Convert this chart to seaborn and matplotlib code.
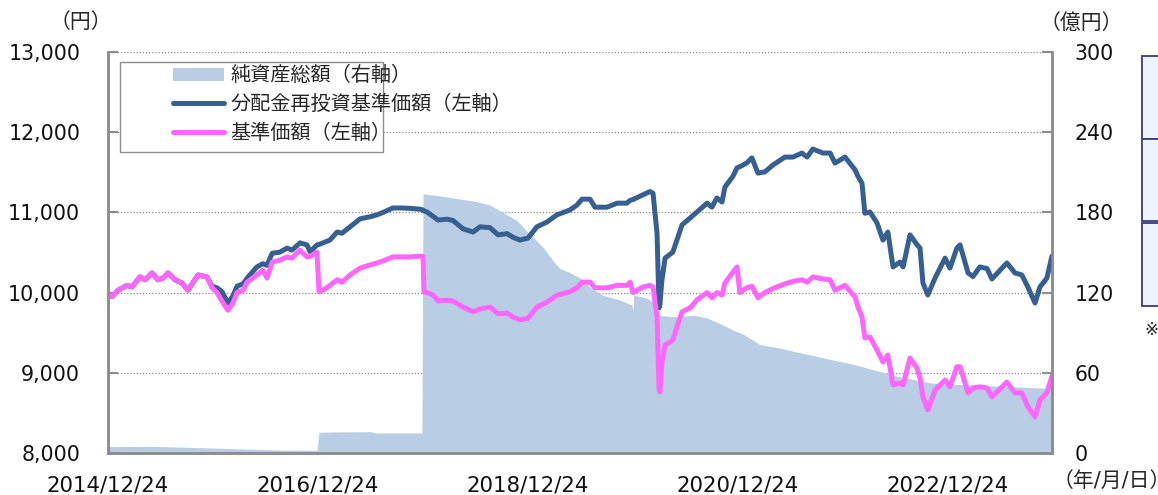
import numpy as np
import pandas as pd
import matplotlib
matplotlib.use("Agg")
import matplotlib.pyplot as plt
import matplotlib.dates as mdates
from matplotlib.patches import Rectangle, Patch
from matplotlib.lines import Line2D
import seaborn as sns

# ---------------- data ----------------
line_dates = [
    "2014-12-24", "2015-01-07", "2015-01-28", "2015-02-28", "2015-03-17", "2015-04-14",
    "2015-05-02", "2015-05-26", "2015-06-16", "2015-07-03", "2015-07-21", "2015-08-14",
    "2015-09-07", "2015-09-28", "2015-11-02", "2015-12-03", "2015-12-21", "2016-01-07",
    "2016-01-25", "2016-02-14", "2016-03-03", "2016-03-17", "2016-04-07", "2016-04-21",
    "2016-05-25", "2016-06-15", "2016-06-29", "2016-07-17", "2016-08-13", "2016-09-07",
    "2016-09-24", "2016-10-22", "2016-11-15", "2016-11-26", "2016-12-20", "2016-12-27",
    "2017-01-10", "2017-02-03", "2017-02-28", "2017-03-17", "2017-04-14", "2017-05-19",
    "2017-06-22", "2017-07-17", "2017-08-07", "2017-09-10", "2017-10-15", "2017-11-09",
    "2017-12-13", "2017-12-24", "2017-12-27", "2018-01-07", "2018-01-28", "2018-02-14",
    "2018-03-17", "2018-04-07", "2018-05-12", "2018-06-16", "2018-07-10", "2018-08-14",
    "2018-09-11", "2018-10-12", "2018-11-02", "2018-11-26", "2018-12-24", "2019-01-24",
    "2019-02-28", "2019-04-04", "2019-05-19", "2019-06-12", "2019-06-30", "2019-07-28",
    "2019-08-14", "2019-09-25", "2019-10-30", "2019-12-03", "2019-12-14", "2019-12-24",
    "2020-01-28", "2020-02-21", "2020-03-03", "2020-03-17", "2020-03-24", "2020-03-27",
    "2020-04-03", "2020-04-14", "2020-05-11", "2020-05-25", "2020-06-12", "2020-07-10",
    "2020-08-03", "2020-09-07", "2020-09-24", "2020-10-11", "2020-10-29", "2020-11-08",
    "2020-12-06", "2020-12-20", "2020-12-30", "2021-01-10", "2021-01-24", "2021-02-10",
    "2021-03-03", "2021-03-27", "2021-04-24", "2021-06-05", "2021-07-03", "2021-08-03",
    "2021-08-21", "2021-09-10", "2021-10-15", "2021-11-09", "2021-11-26", "2021-12-31",
    "2022-02-04", "2022-02-14", "2022-02-28", "2022-03-10", "2022-03-28", "2022-04-21",
    "2022-05-12", "2022-05-29", "2022-06-16", "2022-07-10", "2022-07-21", "2022-08-14",
    "2022-09-07", "2022-09-18", "2022-09-28", "2022-10-15", "2022-11-09", "2022-12-14",
    "2022-12-31", "2023-01-24", "2023-02-04", "2023-03-04", "2023-03-21", "2023-04-14",
    "2023-05-09", "2023-05-26", "2023-06-30", "2023-07-17", "2023-08-14", "2023-09-07",
    "2023-09-28", "2023-10-23", "2023-11-09", "2023-12-03", "2023-12-21",
]

# 基準価額（左軸）
base_price = [
    9990, 9950, 10030, 10090, 10070, 10195,
    10160, 10245, 10160, 10180, 10245, 10160,
    10120, 10030, 10220, 10195, 10060, 10000,
    9890, 9780, 9870, 10000, 10030, 10130,
    10220, 10280, 10180, 10380, 10405, 10445,
    10430, 10530, 10445, 10450, 10505, 10010,
    10030, 10090, 10160, 10130, 10220, 10305,
    10345, 10370, 10395, 10445, 10445, 10445,
    10455, 10450, 10010, 10000, 9970, 9895,
    9905, 9895, 9820, 9760, 9795, 9820,
    9735, 9745, 9695, 9660, 9680, 9820,
    9880, 9970, 10010, 10060, 10130, 10130,
    10060, 10060, 10090, 10090, 10130, 10000,
    10070, 10090, 10070, 9695, 8800, 8760,
    9120, 9345, 9410, 9570, 9760, 9810,
    9910, 10000, 9935, 10000, 9970, 10120,
    10255, 10320, 10000, 10030, 10060, 10080,
    9935, 10000, 10050, 10110, 10140, 10160,
    10130, 10195, 10170, 10160, 10030, 10090,
    9945, 9820, 9695, 9435, 9445, 9285,
    9135, 9220, 8850, 8870, 8850, 9185,
    9060, 8935, 8700, 8535, 8785, 8910,
    8825, 9075, 9075, 8750, 8810, 8825,
    8810, 8700, 8825, 8885, 8750, 8750,
    8575, 8450, 8660, 8750, 8960,
]

# 分配金再投資基準価額（左軸）
reinvested_price = [
    9990, 9950, 10030, 10090, 10070, 10195,
    10160, 10245, 10160, 10180, 10245, 10160,
    10120, 10030, 10220, 10195, 10080, 10060,
    10010, 9870, 9960, 10080, 10110, 10180,
    10320, 10360, 10340, 10490, 10505, 10555,
    10530, 10620, 10595, 10510, 10595, 10600,
    10620, 10655, 10755, 10740, 10820, 10920,
    10945, 10970, 11000, 11055, 11055, 11050,
    11040, 11030, 11020, 11005, 10950, 10905,
    10915, 10900, 10795, 10755, 10820, 10810,
    10720, 10735, 10690, 10655, 10680, 10820,
    10880, 10970, 11030, 11090, 11165, 11165,
    11065, 11065, 11115, 11115, 11150, 11160,
    11220, 11260, 11240, 10740, 9810, 9850,
    10155, 10430, 10505, 10655, 10845, 10930,
    11005, 11115, 11065, 11180, 11130, 11315,
    11450, 11555, 11570, 11590, 11620, 11680,
    11490, 11505, 11590, 11690, 11690, 11740,
    11690, 11790, 11740, 11740, 11615, 11690,
    11530, 11450, 11365, 10990, 11005, 10870,
    10655, 10755, 10320, 10380, 10320, 10720,
    10600, 10555, 10120, 9970, 10180, 10430,
    10305, 10555, 10595, 10245, 10200, 10320,
    10300, 10170, 10305, 10370, 10245, 10220,
    10070, 9870, 10070, 10180, 10455,
]

asset_dates = [
    "2014-12-24", "2015-05-19", "2015-11-09", "2016-05-01", "2016-08-13", "2016-12-20",
    "2016-12-27", "2017-03-10", "2017-06-22", "2017-07-10", "2017-12-20", "2017-12-24",
    "2018-03-03", "2018-06-29", "2018-08-14", "2018-09-28", "2018-11-15", "2018-12-20",
    "2019-01-10", "2019-02-14", "2019-03-21", "2019-04-14", "2019-05-19", "2019-06-22",
    "2019-07-28", "2019-09-10", "2019-11-09", "2019-12-20", "2019-12-24", "2019-12-27",
    "2020-02-10", "2020-03-03", "2020-03-17", "2020-05-17", "2020-07-26", "2020-09-07",
    "2020-10-21", "2020-12-06", "2021-01-10", "2021-03-11", "2021-05-19", "2021-07-17",
    "2021-09-10", "2021-11-09", "2022-01-17", "2022-03-10", "2022-05-01", "2022-06-29",
    "2022-08-24", "2022-10-22", "2022-12-31", "2023-03-11", "2023-06-23", "2023-10-05",
    "2023-11-26", "2023-12-21",
]

# 純資産総額（右軸, 億円）
net_assets = [
    4.8, 5.0, 4.0, 2.8, 2.2, 2.0,
    15.5, 15.8, 16.0, 15.0, 15.0, 194.0,
    192.0, 188.0, 185.5, 180.0, 174.0, 166.0,
    161.6, 154.0, 144.0, 138.0, 135.0, 131.0,
    124.0, 118.0, 114.5, 110.7, 107.0, 118.0,
    116.0, 113.0, 103.0, 102.0, 103.0, 101.0,
    97.0, 92.0, 89.0, 81.0, 78.5, 75.5,
    73.0, 70.0, 67.0, 64.0, 61.0, 57.5,
    55.0, 52.5, 51.5, 51.0, 50.0, 49.0,
    48.5, 50.0,
]

tick_dates = ["2014-12-24", "2016-12-24", "2018-12-24", "2020-12-24", "2022-12-24"]
tick_labels = ["2014/12/24", "2016/12/24", "2018/12/24", "2020/12/24", "2022/12/24"]
left_ticks = [8000, 9000, 10000, 11000, 12000, 13000]
right_ticks = [0, 60, 120, 180, 240, 300]
series_labels = ["純資産総額（右軸）", "分配金再投資基準価額（左軸）", "基準価額（左軸）"]

# ---------------- style ----------------
sns.set_style("white")
plt.rcParams["font.family"] = ["DejaVu Sans", "Noto Sans CJK JP"]

C_AREA = "#B9CDE5"
C_BLUE = "#376092"
C_PINK = "#FF66FF"
C_SPINE = "#8C8C8C"
W = 1158
H = 495

df_lines = pd.DataFrame({
    "date": pd.to_datetime(line_dates),
    "base": base_price,
    "reinv": reinvested_price,
})
df_area = pd.DataFrame({"date": pd.to_datetime(asset_dates), "nav": net_assets})

fig = plt.figure(figsize=(W / 100, H / 100), dpi=100)
L, R, T, B = 108 / W, 1052 / W, 1 - 52 / H, 1 - 453 / H
ax = fig.add_axes([L, B, R - L, T - B])
ax2 = ax.twinx()

# area (right axis), drawn underneath
ax2.fill_between(df_area["date"], 0, df_area["nav"], color=C_AREA, linewidth=0, zorder=2)
ax2.set_ylim(0, 300)
ax2.set_yticks(right_ticks)
ax2.yaxis.grid(True, linestyle=(0, (1, 1.5)), color="#8A8A8A", linewidth=0.9, zorder=0)
ax2.set_axisbelow(True)

# lines (left axis) on top
ax.set_zorder(ax2.get_zorder() + 1)
ax.patch.set_visible(False)
sns.lineplot(data=df_lines, x="date", y="reinv", ax=ax, color=C_BLUE, linewidth=3.6,
             estimator=None, sort=False, legend=False, solid_joinstyle="round")
sns.lineplot(data=df_lines, x="date", y="base", ax=ax, color=C_PINK, linewidth=3.6,
             estimator=None, sort=False, legend=False, solid_joinstyle="round")
ax.set_ylim(8000, 13000)
ax.set_yticks(left_ticks)
ax.set_yticklabels([f"{v:,}" for v in left_ticks])
ax.set_xlim(pd.Timestamp(line_dates[0]), pd.Timestamp(line_dates[-1]))
ax.set_xticks(pd.to_datetime(tick_dates))
ax.set_xticklabels(tick_labels)
ax.set_xlabel("")
ax.set_ylabel("")
ax2.set_ylabel("")

for a in (ax, ax2):
    a.spines["top"].set_visible(False)
    for s in ("left", "right", "bottom"):
        a.spines[s].set_color(C_SPINE)
        a.spines[s].set_linewidth(1.8)

ax.tick_params(axis="y", direction="in", length=7, width=1.5, color=C_SPINE,
               labelsize=14.8, pad=20, labelcolor="#111111")
ax.tick_params(axis="x", length=0, labelsize=15.3, pad=16, labelcolor="#111111")
ax2.tick_params(axis="y", direction="in", length=7, width=1.5, color=C_SPINE,
                labelsize=14.8, pad=16, labelcolor="#111111")

# legend (Excel-style frame that is narrower than the text)
ax.add_patch(Rectangle(((120 - 108) / 944, 1 - (152 - 52) / 401), (383 - 120) / 944, 90 / 401,
                       transform=ax.transAxes, facecolor="white", edgecolor="#8C8C8C",
                       linewidth=1.0, zorder=18, clip_on=False))
handles = [
    Patch(facecolor=C_AREA, edgecolor="none"),
    Line2D([0], [0], color=C_BLUE, linewidth=3.6),
    Line2D([0], [0], color=C_PINK, linewidth=3.6),
]
leg = ax.legend(handles, series_labels, loc="upper left",
                bbox_to_anchor=((173 - 108) / 944, 1 - (66 - 52) / 401),
                borderaxespad=0, frameon=False, fontsize=14.5,
                handlelength=2.55, handleheight=0.6, labelspacing=0.48,
                borderpad=0, handletextpad=0.3)
leg.set_zorder(20)

# unit labels
fig.text(81 / W, 1 - 22 / H, "（円）", ha="center", va="center", fontsize=15)
fig.text(1081 / W, 1 - 23 / H, "（億円）", ha="center", va="center", fontsize=15)
fig.text(1053 / W, 1 - 481 / H, "（年/月/日）", ha="left", va="center", fontsize=15)

# partial table at right edge
rows = [(56, 139), (139, 221), (223, 306)]
for y0, y1 in rows:
    fig.add_artist(Rectangle((1142 / W, 1 - y1 / H), 40 / W, (y1 - y0) / H,
                             transform=fig.transFigure, facecolor="#EEF2FA",
                             edgecolor="#3C3C78", linewidth=1.3))
fig.text(1144 / W, 1 - 330 / H, "※", ha="left", va="center", fontsize=12)

fig.savefig("out.png", dpi=100)
